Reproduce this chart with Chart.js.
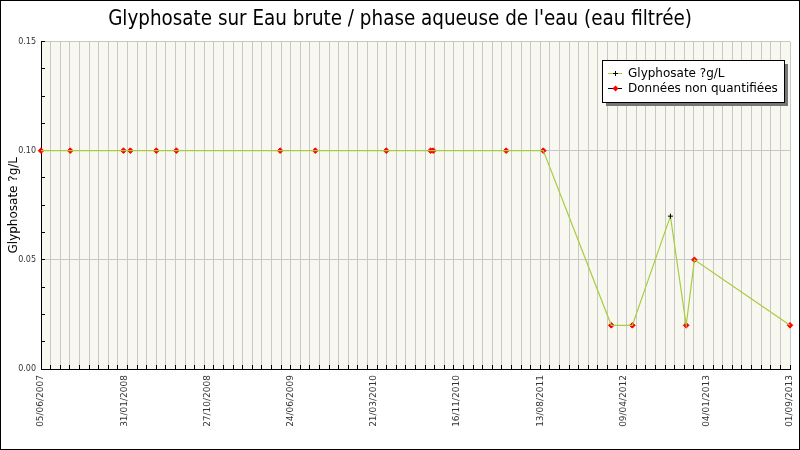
<!DOCTYPE html>
<html>
<head>
<meta charset="utf-8">
<title>Glyphosate sur Eau brute</title>
<script src="https://cdn.jsdelivr.net/npm/chart.js"></script>
<style>
  body { margin: 0; background: #fff; }
  #wrap { width: 800px; height: 450px; }
</style>
</head>
<body>
<div id="wrap"><canvas id="glyphoChart" width="800" height="450"></canvas></div>
<script>
// dates printed under the x axis (evenly spaced)
const dateLabels = ['05/06/2007', '31/01/2008', '27/10/2008', '24/06/2009', '21/03/2010',
  '16/11/2010', '13/08/2011', '09/04/2012', '04/01/2013', '01/09/2013'];

// sample positions, days since 05/06/2007
const sampleDays = [0, 89, 251, 272, 351, 412, 728, 835, 1051, 1186, 1194, 1416, 1529,
  1736, 1800, 1916, 1964, 1989, 2280];
// glyphosate in ?g/L
const glyphosate = [0.10, 0.10, 0.10, 0.10, 0.10, 0.10, 0.10, 0.10, 0.10, 0.10, 0.10, 0.10, 0.10,
  0.02, 0.02, 0.07, 0.02, 0.05, 0.02];
// false = "Données non quantifiées"
const quantified = [false, false, false, false, false, false, false, false, false, false, false, false, false,
  false, false, true, false, false, false];

const axisDays = 2280;
const gridSteps = 78;

const lineColor = '#a8cc40';
const nqColor = '#ff0000';

const allPoints = sampleDays.map((d, i) => ({ x: d, y: glyphosate[i] }));
const nqPoints = allPoints.filter((p, i) => !quantified[i]);

// background, boxed legend and outer frame
const frame = {
  id: 'frame',
  beforeDraw(chart) {
    const { ctx, chartArea: a } = chart;
    ctx.save();
    ctx.fillStyle = '#fff';
    ctx.fillRect(0, 0, chart.width, chart.height);
    ctx.fillStyle = '#f8f8f0';
    ctx.fillRect(a.left, a.top, a.right - a.left, a.bottom - a.top);
    ctx.restore();
  },
  afterDraw(chart) {
    const { ctx, chartArea: a } = chart;
    const sets = chart.data.datasets;
    const bw = 182, bh = 42;
    const bx = Math.round(a.right - bw - 6), by = Math.round(a.top + 19);
    ctx.save();
    ctx.fillStyle = '#777';
    ctx.fillRect(bx + 4, by + 4, bw, bh);
    ctx.fillStyle = '#fff';
    ctx.fillRect(bx, by, bw, bh);
    ctx.strokeStyle = '#000';
    ctx.lineWidth = 1;
    ctx.strokeRect(bx + 0.5, by + 0.5, bw, bh);

    ctx.font = '12px "DejaVu Sans"';
    ctx.textBaseline = 'middle';
    sets.forEach((ds, i) => {
      const ry = by + 13 + i * 15 + 0.5;
      ctx.strokeStyle = i === 0 ? lineColor : '#000';
      ctx.beginPath();
      ctx.moveTo(bx + 6, ry);
      ctx.lineTo(bx + 20, ry);
      ctx.stroke();
      const mx = bx + 13.5;
      if (i === 0) {
        ctx.strokeStyle = '#000';
        ctx.beginPath();
        ctx.moveTo(mx - 2.5, ry); ctx.lineTo(mx + 2.5, ry);
        ctx.moveTo(mx, ry - 2.5); ctx.lineTo(mx, ry + 2.5);
        ctx.stroke();
      } else {
        ctx.fillStyle = nqColor;
        ctx.beginPath();
        ctx.moveTo(mx, ry - 3); ctx.lineTo(mx + 3, ry);
        ctx.lineTo(mx, ry + 3); ctx.lineTo(mx - 3, ry);
        ctx.closePath();
        ctx.fill();
      }
      ctx.fillStyle = '#000';
      ctx.fillText(ds.label, bx + 26, ry);
    });

    ctx.strokeStyle = '#000';
    ctx.strokeRect(0.5, 0.5, chart.width - 1, chart.height - 1);
    ctx.restore();
  }
};

new Chart(document.getElementById('glyphoChart'), {
  type: 'line',
  data: {
    datasets: [{
      label: 'Glyphosate ?g/L',
      data: allPoints,
      borderColor: lineColor,
      borderWidth: 1.2,
      tension: 0,
      fill: false,
      clip: false,
      pointStyle: 'cross',
      pointRadius: ctx => quantified[ctx.dataIndex] ? 2.5 : 0,
      pointBorderColor: '#000',
      pointBorderWidth: 1,
      xAxisID: 'x',
      yAxisID: 'y'
    }, {
      label: 'Données non quantifiées',
      data: nqPoints,
      showLine: false,
      clip: false,
      pointStyle: 'rectRot',
      pointRadius: 2.8,
      pointBackgroundColor: nqColor,
      pointBorderColor: nqColor,
      pointBorderWidth: 1,
      xAxisID: 'x',
      yAxisID: 'y'
    }]
  },
  options: {
    responsive: false,
    animation: false,
    events: [],
    layout: { padding: 0 },
    plugins: {
      legend: { display: false },
      tooltip: { enabled: false },
      title: {
        display: true,
        text: "Glyphosate sur Eau brute / phase aqueuse de l'eau (eau filtrée)",
        color: '#000',
        font: { family: 'DejaVu Sans Condensed', size: 20.4, weight: 'normal', lineHeight: 1.2 },
        padding: { top: 7, bottom: 10 }
      }
    },
    scales: {
      x: {
        type: 'linear',
        position: 'bottom',
        min: 0,
        max: axisDays,
        weight: 0,
        afterBuildTicks: s => {
          s.ticks = Array.from({ length: gridSteps + 1 }, (_, i) => ({ value: i * axisDays / gridSteps }));
        },
        ticks: { display: false },
        grid: { color: '#c8c8c8', tickColor: '#000', tickLength: -4 },
        border: { display: true, color: '#000', width: 1 }
      },
      xl: {
        type: 'linear',
        position: 'bottom',
        min: 0,
        max: axisDays,
        weight: 1,
        afterBuildTicks: s => {
          s.ticks = dateLabels.map((_, i) => ({ value: i * axisDays / (dateLabels.length - 1) }));
        },
        afterFit: s => {
          s.height = 81;
          s.paddingLeft = 0;
          s.paddingRight = 10;
        },
        grid: { display: false, drawTicks: false, tickLength: 0 },
        border: { display: false },
        ticks: {
          autoSkip: false,
          maxRotation: 90,
          minRotation: 90,
          padding: 10,
          color: '#333',
          font: { family: 'DejaVu Sans', size: 9 },
          callback: (v, i) => dateLabels[i]
        }
      },
      y: {
        min: 0,
        max: 0.15,
        afterBuildTicks: s => {
          s.ticks = Array.from({ length: 13 }, (_, i) => ({ value: i * 0.0125 }));
        },
        afterFit: s => { s.width = 41; },
        grid: {
          color: c => c.index % 4 === 0 ? '#c8c8c8' : 'rgba(0,0,0,0)',
          tickColor: '#000',
          tickLength: -4
        },
        border: { color: '#000', width: 1 },
        ticks: {
          autoSkip: false,
          padding: 9,
          color: '#333',
          font: { family: 'DejaVu Sans', size: 8 },
          callback: (v, i) => i % 4 === 0 ? v.toFixed(2) : ''
        },
        title: {
          display: true,
          text: 'Glyphosate ?g/L',
          color: '#000',
          font: { family: 'DejaVu Sans', size: 12 },
          padding: { top: 7, bottom: 0 }
        }
      }
    }
  },
  plugins: [frame]
});
</script>
</body>
</html>
